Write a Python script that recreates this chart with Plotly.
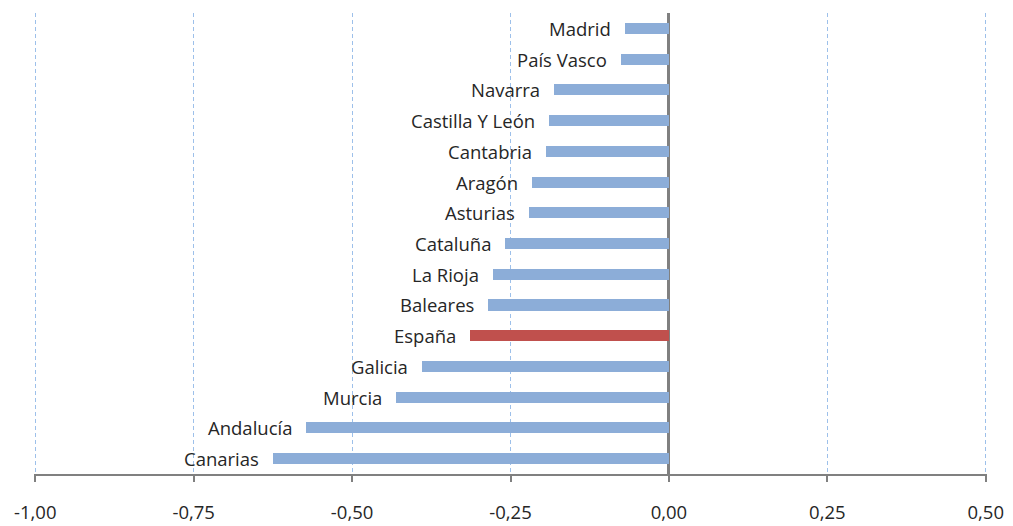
import plotly.graph_objects as go

regions = ["Madrid", "País Vasco", "Navarra", "Castilla Y León", "Cantabria", "Aragón",
           "Asturias", "Cataluña", "La Rioja", "Baleares", "España", "Galicia",
           "Murcia", "Andalucía", "Canarias"]
values = [-0.070, -0.076, -0.181, -0.189, -0.194, -0.216, -0.221, -0.259, -0.278,
          -0.285, -0.314, -0.389, -0.430, -0.573, -0.625]
highlight = "España"
tick_vals = [-1.0, -0.75, -0.5, -0.25, 0.0, 0.25, 0.5]
tick_text = ["-1,00", "-0,75", "-0,50", "-0,25", "0,00", "0,25", "0,50"]

BLUE = "#8CADD8"
RED = "#C0504D"
FONT = "Open Sans"
colors = [RED if r == highlight else BLUE for r in regions]

fig = go.Figure()
fig.add_trace(go.Bar(
    x=values, y=regions, orientation="h",
    marker=dict(color=colors, line=dict(width=0)),
    width=0.36, hoverinfo="x+y",
))

for r, v in zip(regions, values):
    fig.add_annotation(x=v, y=r, text=r, showarrow=False, xanchor="right",
                       xshift=-12, yshift=0,
                       font=dict(family=FONT, size=18.5, color="#262626"))

fig.update_layout(
    width=1013, height=526,
    margin=dict(l=34, r=26, t=13, b=52, autoexpand=False),
    paper_bgcolor="white", plot_bgcolor="white",
    showlegend=False,
    bargap=0,
    xaxis=dict(
        range=[-1.002, 0.502], tickvals=tick_vals, ticktext=tick_text,
        automargin=False,
        showgrid=True, gridcolor="#9DC0EA", griddash="4px,3px", gridwidth=1,
        zeroline=True, zerolinecolor="#808080", zerolinewidth=2.5,
        showline=True, linecolor="#808080", linewidth=1.5,
        ticks="outside", ticklen=6, tickcolor="#808080", tickwidth=1.5,
        ticklabelstandoff=15,
        tickfont=dict(family=FONT, size=18.5, color="#262626"),
    ),
    yaxis=dict(
        categoryorder="array", categoryarray=regions, autorange="reversed",
        automargin=False,
        showticklabels=False, showgrid=False, zeroline=False, showline=False,
        ticks="",
    ),
)

fig.write_html("out.html", config={"displayModeBar": False},
               post_script="document.body.style.margin='0';")
